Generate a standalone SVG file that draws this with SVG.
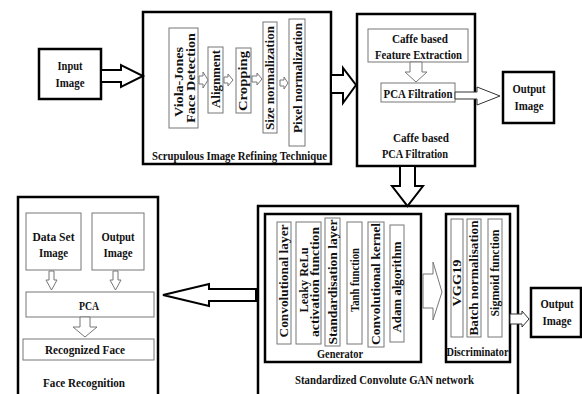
<svg xmlns="http://www.w3.org/2000/svg" width="582" height="394" viewBox="0 0 582 394">
  <style>
    .t{font-family:"Liberation Serif","Times New Roman",serif;font-weight:bold;font-size:13px;fill:#111;text-anchor:middle}
    .v{font-size:13.5px}
    .box{fill:#fff;stroke:#000;stroke-width:2.5}
    .in{fill:#fff;stroke:#777;stroke-width:1}
    .arw{fill:#fff;stroke:#000;stroke-width:2;stroke-linejoin:miter}
    .sarw{fill:#fff;stroke:#777;stroke-width:1}
  </style>
  <rect width="582" height="394" fill="#fff"/>

  <!-- input image -->
  <g id="input-image">
    <rect class="box" x="39" y="49" width="62" height="50"/>
    <text class="t" x="70" y="70" textLength="25" lengthAdjust="spacingAndGlyphs">Input</text>
    <text class="t" x="70" y="87" textLength="29" lengthAdjust="spacingAndGlyphs">Image</text>
  </g>

  <!-- refining stage -->
  <g id="refining">
    <rect class="box" x="143" y="12" width="188" height="152"/>
    <text class="t" x="239.5" y="160" textLength="175" lengthAdjust="spacingAndGlyphs">Scrupulous Image Refining Technique</text>
  </g>
  <g id="viola-jones">
    <rect class="in" x="169" y="28" width="29" height="100"/>
    <text class="t v" transform="translate(183,82) rotate(-90)" textLength="70" lengthAdjust="spacingAndGlyphs">Viola-Jones</text>
    <text class="t v" transform="translate(195,78) rotate(-90)" textLength="90" lengthAdjust="spacingAndGlyphs">Face Detection</text>
  </g>
  <g id="alignment">
    <rect class="in" x="208" y="47" width="15" height="66"/>
    <text class="t v" transform="translate(219.5,79) rotate(-90)" textLength="58" lengthAdjust="spacingAndGlyphs">Alignment</text>
  </g>
  <g id="cropping">
    <rect class="in" x="236" y="48" width="15" height="65"/>
    <text class="t v" transform="translate(247,81) rotate(-90)" textLength="60" lengthAdjust="spacingAndGlyphs">Cropping</text>
  </g>
  <g id="size-norm">
    <rect class="in" x="263" y="22" width="14" height="111"/>
    <text class="t v" transform="translate(274,78) rotate(-90)" textLength="104" lengthAdjust="spacingAndGlyphs">Size normalization</text>
  </g>
  <g id="pixel-norm">
    <rect class="in" x="289" y="19" width="16" height="127"/>
    <text class="t v" transform="translate(301.5,78) rotate(-90)" textLength="110" lengthAdjust="spacingAndGlyphs">Pixel normalization</text>
  </g>

  <!-- caffe / PCA stage -->
  <g id="caffe-pca">
    <rect class="box" x="357" y="14" width="118" height="152"/>
    <text class="t" x="421" y="142" textLength="56" lengthAdjust="spacingAndGlyphs">Caffe based</text>
    <text class="t" x="415" y="158" textLength="66" lengthAdjust="spacingAndGlyphs">PCA Filtration</text>
  </g>
  <g id="feature-extraction">
    <rect class="in" x="368" y="29" width="100" height="33"/>
    <text class="t" x="420" y="43" textLength="56" lengthAdjust="spacingAndGlyphs">Caffe based</text>
    <text class="t" x="418.5" y="59" textLength="87" lengthAdjust="spacingAndGlyphs">Feature Extraction</text>
  </g>
  <g id="pca-filtration">
    <rect class="in" x="381" y="83" width="74" height="19"/>
    <text class="t" x="418" y="98" textLength="69" lengthAdjust="spacingAndGlyphs">PCA Filtration</text>
  </g>
  <g id="output-1">
    <rect class="box" x="503" y="72" width="51" height="51"/>
    <text class="t" x="529" y="93" textLength="33" lengthAdjust="spacingAndGlyphs">Output</text>
    <text class="t" x="529" y="110" textLength="29" lengthAdjust="spacingAndGlyphs">Image</text>
  </g>

  <!-- GAN stage -->
  <g id="gan">
    <rect class="box" x="258" y="206" width="260" height="200"/>
    <text class="t" x="384.5" y="384" textLength="179" lengthAdjust="spacingAndGlyphs">Standardized Convolute GAN network</text>
  </g>
  <g id="generator">
    <rect class="box" x="265" y="214" width="156" height="148"/>
    <text class="t" x="340" y="358" textLength="46" lengthAdjust="spacingAndGlyphs">Generator</text>
  </g>
  <g id="conv-layer">
    <rect class="in" x="277" y="222" width="14" height="122"/>
    <text class="t v" transform="translate(288,281) rotate(-90)" textLength="113" lengthAdjust="spacingAndGlyphs">Convolutional layer</text>
  </g>
  <g id="leaky-relu">
    <rect class="in" x="296" y="222" width="25" height="122"/>
    <text class="t v" transform="translate(307.5,280) rotate(-90)" textLength="65" lengthAdjust="spacingAndGlyphs">Leaky ReLu</text>
    <text class="t v" transform="translate(318.5,282) rotate(-90)" textLength="110" lengthAdjust="spacingAndGlyphs">activation function</text>
  </g>
  <g id="std-layer">
    <rect class="in" x="325" y="218" width="15" height="128"/>
    <text class="t v" transform="translate(336.5,282) rotate(-90)" textLength="125" lengthAdjust="spacingAndGlyphs">Standardisation layer</text>
  </g>
  <g id="tanh">
    <rect class="in" x="347" y="222" width="15" height="122"/>
    <text class="t v" transform="translate(358.5,280) rotate(-90)" textLength="64" lengthAdjust="spacingAndGlyphs">Tanh function</text>
  </g>
  <g id="conv-kernel">
    <rect class="in" x="368" y="222" width="16" height="125"/>
    <text class="t v" transform="translate(380,284) rotate(-90)" textLength="122" lengthAdjust="spacingAndGlyphs">Convolutional kernel</text>
  </g>
  <g id="adam">
    <rect class="in" x="390" y="225" width="14" height="117"/>
    <text class="t v" transform="translate(401,287) rotate(-90)" textLength="91" lengthAdjust="spacingAndGlyphs">Adam algorithm</text>
  </g>
  <g id="discriminator">
    <rect class="box" x="446" y="214" width="64" height="148"/>
    <text class="t" x="477.5" y="356" textLength="62" lengthAdjust="spacingAndGlyphs">Discriminator</text>
  </g>
  <g id="vgg19">
    <rect class="in" x="451" y="219" width="12" height="118"/>
    <text class="t v" transform="translate(461,283) rotate(-90)" textLength="47" lengthAdjust="spacingAndGlyphs">VGG19</text>
  </g>
  <g id="batch-norm">
    <rect class="in" x="467" y="219" width="14" height="118"/>
    <text class="t v" transform="translate(478,278) rotate(-90)" textLength="115" lengthAdjust="spacingAndGlyphs">Batch normalisation</text>
  </g>
  <g id="sigmoid">
    <rect class="in" x="488" y="219" width="14" height="118"/>
    <text class="t v" transform="translate(499,273) rotate(-90)" textLength="87" lengthAdjust="spacingAndGlyphs">Sigmoid function</text>
  </g>
  <g id="output-2">
    <rect class="box" x="531" y="288" width="50" height="49"/>
    <text class="t" x="557" y="308" textLength="33" lengthAdjust="spacingAndGlyphs">Output</text>
    <text class="t" x="557" y="325" textLength="29" lengthAdjust="spacingAndGlyphs">Image</text>
  </g>

  <!-- face recognition stage -->
  <g id="face-recognition">
    <rect class="box" x="18" y="197" width="140" height="210"/>
    <text class="t" x="84" y="387" textLength="82" lengthAdjust="spacingAndGlyphs">Face Recognition</text>
  </g>
  <g id="dataset-image">
    <rect class="in" x="26" y="213" width="55" height="57"/>
    <text class="t" x="53.5" y="241" textLength="42" lengthAdjust="spacingAndGlyphs">Data Set</text>
    <text class="t" x="53.5" y="257" textLength="29" lengthAdjust="spacingAndGlyphs">Image</text>
  </g>
  <g id="output-3">
    <rect class="in" x="92" y="213" width="52" height="57"/>
    <text class="t" x="118" y="241" textLength="33" lengthAdjust="spacingAndGlyphs">Output</text>
    <text class="t" x="118" y="257" textLength="29" lengthAdjust="spacingAndGlyphs">Image</text>
  </g>
  <g id="pca">
    <rect class="in" x="26" y="292" width="128" height="25"/>
    <text class="t" x="89" y="310" textLength="20" lengthAdjust="spacingAndGlyphs">PCA</text>
  </g>
  <g id="recognized-face">
    <rect class="in" x="23" y="339" width="131" height="21"/>
    <text class="t" x="85" y="354" textLength="80" lengthAdjust="spacingAndGlyphs">Recognized Face</text>
  </g>

  <!-- connectors -->
  <g id="connectors">
    <polygon class="arw" points="101,70 121,70 121,65 143,76 121,87 121,82 101,82"/>
    <polygon class="sarw" points="199,76 203,76 203,72 208,80 203,88 203,84 199,84"/>
    <polygon class="sarw" points="224,77 228,77 228,74 233,80 228,86 228,83 224,83"/>
    <polygon class="sarw" points="252,76 257,76 257,73 262,79 257,85 257,82 252,82"/>
    <polygon class="sarw" points="280,80 284,80 284,77 288,83 284,89 284,86 280,86"/>
    <polygon class="arw" points="331,75 343,75 343,68 356,85 343,103 343,93 331,93"/>
    <polygon class="sarw" points="410,62 422,62 422,72 427,72 416,82 405,72 410,72"/>
    <polygon class="sarw" style="stroke:#333" points="455,92 477,92 477,87 500,96 477,105 477,99 455,99"/>
    <polygon class="arw" points="400,166 415,166 415,186 423,186 407.5,206 392,186 400,186"/>
    <polygon class="sarw" points="423,274 433,274 433,262 442,292 433,320 433,308 423,308"/>
    <polygon class="sarw" style="stroke:#333" points="510,314 522,314 522,311 529,319 522,327 522,324 510,324"/>
    <polygon class="arw" points="256,289 209,289 209,284 163,295 209,306 209,301 256,301"/>
    <polygon class="sarw" points="49,271 54,271 54,280 57,280 51.5,290 46,280 49,280"/>
    <polygon class="sarw" points="113,271 118,271 118,280 121,280 115.5,290 110,280 113,280"/>
    <polygon class="sarw" points="80,317 90,317 90,327 97,327 85,337 73,327 80,327"/>
  </g>
</svg>
